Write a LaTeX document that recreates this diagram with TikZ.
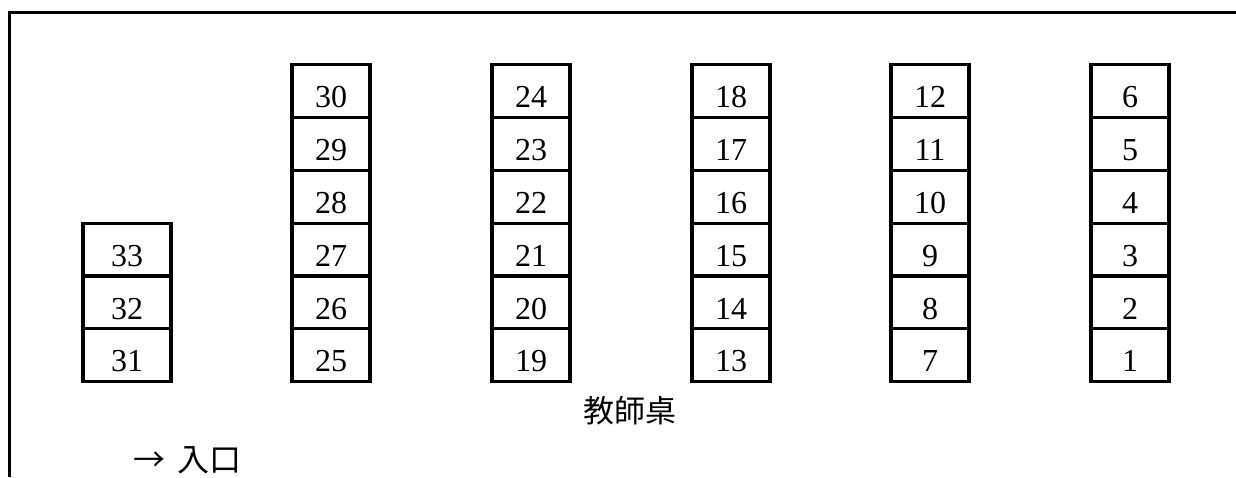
\documentclass[tikz,border=0pt]{standalone}
\usepackage{fontspec}
\setmainfont{Liberation Serif}
\newfontfamily\cjk{Noto Sans CJK TC}
\usepackage{tikz}

\begin{document}
\begin{tikzpicture}[x=0.5pt, y=-0.5pt,
  seat/.style={draw, line width=1.6pt, minimum width=39pt, minimum height=26.4pt, inner sep=0pt, outer sep=0pt, text height=18pt, text depth=1.4pt, font=\fontsize{16}{18}\selectfont},
  wideseat/.style={seat, minimum width=44pt}]
\useasboundingbox (0,0) rectangle (1236,477);

\node[wideseat] (s33) at (127,249.6) {33};
\node[wideseat] (s32) at (127,302.4) {32};
\node[wideseat] (s31) at (127,355.2) {31};

\node[seat] (s30) at (331,91.2) {30};
\node[seat] (s29) at (331,144) {29};
\node[seat] (s28) at (331,196.8) {28};
\node[seat] (s27) at (331,249.6) {27};
\node[seat] (s26) at (331,302.4) {26};
\node[seat] (s25) at (331,355.2) {25};

\node[seat] (s24) at (531,91.2) {24};
\node[seat] (s23) at (531,144) {23};
\node[seat] (s22) at (531,196.8) {22};
\node[seat] (s21) at (531,249.6) {21};
\node[seat] (s20) at (531,302.4) {20};
\node[seat] (s19) at (531,355.2) {19};

\node[seat] (s18) at (731,91.2) {18};
\node[seat] (s17) at (731,144) {17};
\node[seat] (s16) at (731,196.8) {16};
\node[seat] (s15) at (731,249.6) {15};
\node[seat] (s14) at (731,302.4) {14};
\node[seat] (s13) at (731,355.2) {13};

\node[seat] (s12) at (930,91.2) {12};
\node[seat] (s11) at (930,144) {11};
\node[seat] (s10) at (930,196.8) {10};
\node[seat] (s9) at (930,249.6) {9};
\node[seat] (s8) at (930,302.4) {8};
\node[seat] (s7) at (930,355.2) {7};

\node[seat] (s6) at (1130,91.2) {6};
\node[seat] (s5) at (1130,144) {5};
\node[seat] (s4) at (1130,196.8) {4};
\node[seat] (s3) at (1130,249.6) {3};
\node[seat] (s2) at (1130,302.4) {2};
\node[seat] (s1) at (1130,355.2) {1};

\node[font=\cjk\fontsize{15.5}{18}\selectfont] (desk) at (630,411) {教師桌};
\node[font=\cjk\fontsize{16}{18}\selectfont, anchor=west, inner sep=0pt] (door) at (133,460) {→\hspace{6pt}入口};

\draw[line width=1.5pt] (9.5,477) -- (9.5,12.5) -- (1236,12.5);
\end{tikzpicture}
\end{document}
